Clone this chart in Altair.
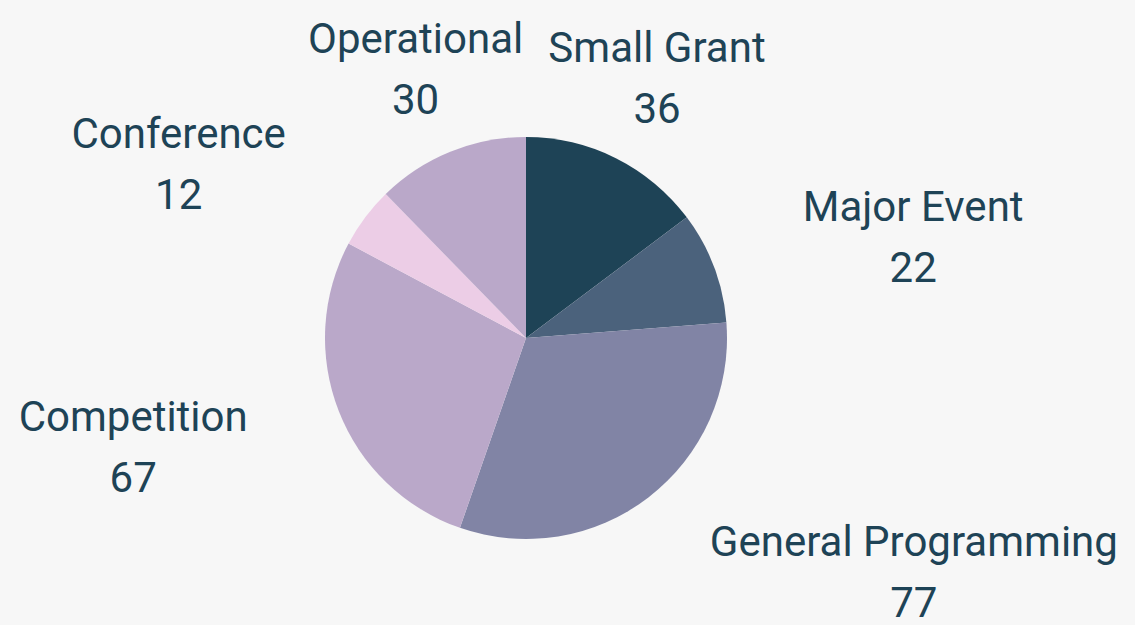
import altair as alt
import pandas as pd

categories = ["Small Grant", "Major Event", "General Programming", "Competition", "Conference", "Operational"]
values = [36, 22, 77, 67, 12, 30]
colors = ["#1e4356", "#4b627c", "#8184a5", "#baa8c9", "#eccde6", "#baa8c9"]

# horizontal shift of each label block (style: block is centered on anchor +/- half its width)
label_shift = {"Small Grant": 0, "Major Event": 113, "General Programming": 209,
               "Competition": -120, "Conference": -113, "Operational": 0}

df = pd.DataFrame({"category": categories, "value": values, "idx": list(range(len(categories)))})
df["label"] = df["category"] + "\n" + df["value"].astype(str)
total = float(sum(values))

CX, CY = 526, 338
FONT = "Roboto"
TEXT_COLOR = "#1e4356"

base = alt.Chart(df)

arc = base.mark_arc(outerRadius=201).encode(
    theta=alt.Theta("value:Q", stack=True, scale=alt.Scale(domain=[0, total])),
    color=alt.Color("category:N", scale=alt.Scale(domain=categories, range=colors), legend=None),
    order=alt.Order("idx:Q"),
    x=alt.value(CX),
    y=alt.value(CY),
)

layers = [arc]
for cat in categories:
    t = base.transform_window(
        cum="sum(value)", sort=[alt.SortField("idx")], frame=[None, 0]
    ).transform_calculate(
        mid="datum.cum - datum.value / 2"
    ).transform_filter(
        alt.datum.category == cat
    ).mark_text(
        radius=293, align="center", baseline="middle", lineBreak="\n", lineHeight=61,
        font=FONT, fontSize=42, color=TEXT_COLOR, dx=label_shift[cat], dy=-27
    ).encode(
        theta=alt.Theta("mid:Q", stack=None, scale=alt.Scale(domain=[0, total])),
        text="label:N",
        x=alt.value(CX),
        y=alt.value(CY),
    )
    layers.append(t)

chart = alt.layer(*layers).properties(
    width=1135, height=625, background="#f7f7f7", padding=0,
    autosize=alt.AutoSizeParams(type="none"),
).configure_view(stroke=None)

chart.save("out.html", embed_options={"renderer": "svg", "actions": False})
